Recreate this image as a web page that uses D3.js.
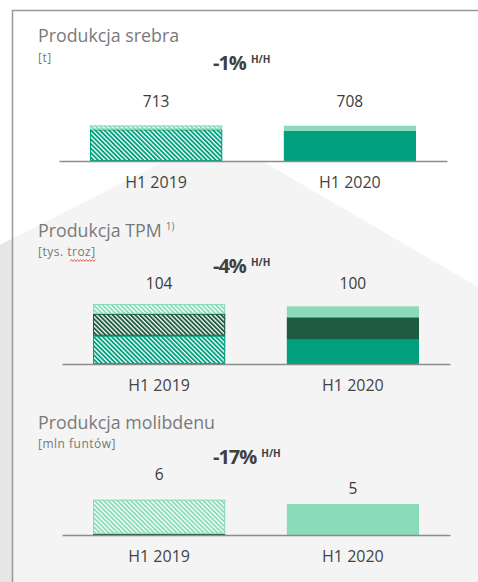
<!DOCTYPE html>
<html>
<head>
<meta charset="utf-8">
<script src="https://cdn.jsdelivr.net/npm/d3@7"></script>
<style>
  body { margin: 0; background: #fff; }
  svg { display: block; font-family: 'Open Sans', sans-serif; }
</style>
</head>
<body>
<div class="canvas"></div>
<script>
// data
const categories = ['H1 2019', 'H1 2020']

// silver [t]
const silverKghm = [635, 603]
const silverSierra = [78, 105]

// TPM [tys. troz]
const tpmKghm = [49, 42]
const tpmIntl = [38, 39]
const tpmSierra = [17, 19]

// molybdenum [mln funtów]
const molyIntl = [0.2, 0]
const molySierra = [5.5, 5.0]

const changeLabels = ['-1%', '-4%', '-17%']

const colors = { kghm: '#00a07e', intl: '#1e5b41', sierra: '#8adbb8' }

const width = 478
const height = 582

const svg = d3.select('.canvas')
    .append('svg')
    .attr('width', width)
    .attr('height', height)

// hatch patterns for the 2019 bars
const defs = svg.append('defs')
Object.keys(colors).forEach(key => {
    const p = defs.append('pattern')
        .attr('id', 'hatch-' + key)
        .attr('patternUnits', 'userSpaceOnUse')
        .attr('width', 3.2)
        .attr('height', 3.2)
        .attr('patternTransform', 'rotate(-45)')
    p.append('rect').attr('width', 3.2).attr('height', 3.2).attr('fill', '#fff')
    p.append('rect').attr('width', 1.9).attr('height', 3.2).attr('fill', colors[key])
})

// background shapes
svg.append('polygon')
    .attr('points', [[0, 245], [165, 161], [262, 161], [478, 287], [478, 582], [0, 582]].join(' '))
    .attr('fill', '#f4f4f4')
svg.append('polygon')
    .attr('points', [[0, 245], [12, 239], [12, 582], [0, 582]].join(' '))
    .attr('fill', '#e6e6e6')
svg.append('path')
    .attr('d', 'M12.5,582V10.5H478')
    .attr('fill', 'none')
    .attr('stroke', '#999')
    .attr('stroke-width', 1.5)

const charts = [
    {
        title: 'Produkcja srebra', unit: '[t]', change: changeLabels[0],
        series: { kghm: silverKghm, sierra: silverSierra },
        titleY: 42, unitY: 62, changeY: 70, axisY: 161, x0: 59, maxH: 35.5, labelY: [107, 107]
    },
    {
        title: 'Produkcja TPM', note: '1)', unit: '[tys. troz]', change: changeLabels[1],
        series: { kghm: tpmKghm, intl: tpmIntl, sierra: tpmSierra },
        titleY: 237, unitY: 255.5, changeY: 273, axisY: 364, x0: 62, maxH: 60, labelY: [289, 289]
    },
    {
        title: 'Produkcja molibdenu', unit: '[mln funtów]', change: changeLabels[2],
        series: { intl: molyIntl, sierra: molySierra },
        titleY: 429, unitY: 448, changeY: 464, axisY: 535, x0: 62, maxH: 35.3, labelY: [480, 494]
    }
]

charts.forEach(c => {
    const g = svg.append('g')
    const keys = Object.keys(c.series)
    const rows = categories.map((cat, i) => {
        const row = { cat }
        keys.forEach(k => row[k] = c.series[k][i])
        return row
    })
    const stacked = d3.stack().keys(keys)(rows)
    const totals = rows.map(r => d3.sum(keys, k => r[k]))

    const x = d3.scaleBand()
        .domain(categories)
        .range([c.x0, c.x0 + 388])
        .paddingInner(0.318)
        .paddingOuter(0.16)

    const y = d3.scaleLinear()
        .domain([0, d3.max(totals)])
        .range([c.axisY, c.axisY - c.maxH])

    // titles
    const t = g.append('text')
        .attr('x', 38)
        .attr('y', c.titleY)
        .attr('font-size', 17.8)
        .attr('fill', '#7a7a7a')
        .text(c.title)
    if (c.note) {
        t.append('tspan')
            .attr('dx', 4)
            .attr('dy', -7)
            .attr('font-size', 10)
            .text(c.note)
    }
    g.append('text')
        .attr('x', 38)
        .attr('y', c.unitY)
        .attr('font-size', 12)
        .attr('letter-spacing', 0.5)
        .attr('fill', '#777')
        .text(c.unit)

    // change H/H
    const ch = g.append('text')
        .attr('x', 213)
        .attr('y', c.changeY)
        .attr('font-weight', 'bold')
        .attr('fill', '#404040')
    ch.append('tspan')
        .attr('font-size', 20)
        .attr('letter-spacing', -1)
        .text(c.change)
    ch.append('tspan')
        .attr('dx', 5)
        .attr('dy', -7)
        .attr('font-size', 10)
        .text('H/H')

    // bars
    stacked.forEach(layer => {
        g.selectAll(null)
            .data(layer)
            .enter()
            .append('rect')
            .attr('x', d => x(d.data.cat))
            .attr('y', d => y(d[1]))
            .attr('width', x.bandwidth())
            .attr('height', d => y(d[0]) - y(d[1]))
            .attr('fill', (d, i) => i === 0 ? `url(#hatch-${layer.key})` : colors[layer.key])
        // outline on hatched segments
        g.selectAll(null)
            .data(layer.filter((d, i) => i === 0 && d[1] > d[0]))
            .enter()
            .append('rect')
            .attr('x', d => x(d.data.cat) + 0.5)
            .attr('y', d => y(d[1]) + 0.5)
            .attr('width', x.bandwidth() - 1)
            .attr('height', d => Math.max(0, y(d[0]) - y(d[1]) - 1))
            .attr('fill', 'none')
            .attr('stroke', colors[layer.key])
            .attr('stroke-width', 1)
    })

    // value labels
    g.selectAll(null)
        .data(rows)
        .enter()
        .append('text')
        .attr('x', d => x(d.cat) + x.bandwidth() / 2)
        .attr('y', (d, i) => c.labelY[i])
        .attr('text-anchor', 'middle')
        .attr('font-size', 15.5)
        .attr('fill', '#3a3a3a')
        .text((d, i) => d3.format('.0f')(totals[i]))

    // axis
    const xAxisGroup = g.append('g')
        .attr('transform', `translate(0, ${c.axisY})`)
        .call(d3.axisBottom(x).tickSize(0).tickSizeOuter(0).tickPadding(16))
    xAxisGroup.select('.domain')
        .attr('stroke', '#8c8c8c')
        .attr('stroke-width', 1.3)
    xAxisGroup.selectAll('text')
        .attr('font-family', 'Open Sans, sans-serif')
        .attr('font-size', 16)
        .attr('fill', '#444')
})

// spell-check squiggle under "troz"
const sq = d3.range(0, 27, 1.5).map((v, i) => [70 + v, i % 2 ? 259.5 : 261.5])
svg.append('path')
    .attr('d', d3.line()(sq))
    .attr('fill', 'none')
    .attr('stroke', '#e0443a')
    .attr('stroke-width', 0.8)
</script>
</body>
</html>
